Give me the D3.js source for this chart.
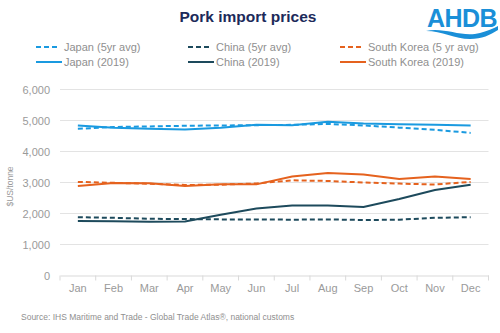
<!DOCTYPE html>
<html>
<head>
<meta charset="utf-8">
<script src="https://cdn.jsdelivr.net/npm/d3@7"></script>
<style>
  html, body { margin: 0; padding: 0; background: #fff; }
  svg { display: block; font-family: "Liberation Sans", Arial, sans-serif; }
</style>
</head>
<body>
<svg id="chart" width="500" height="333"></svg>
<script>
const months = ["Jan","Feb","Mar","Apr","May","Jun","Jul","Aug","Sep","Oct","Nov","Dec"];
const yTicks = [0, 1000, 2000, 3000, 4000, 5000, 6000];

const japanAvg  = [4730, 4790, 4810, 4830, 4840, 4850, 4860, 4890, 4840, 4770, 4700, 4600];
const chinaAvg  = [1880, 1860, 1830, 1820, 1810, 1810, 1800, 1810, 1790, 1800, 1860, 1880];
const koreaAvg  = [3020, 2990, 2960, 2920, 2930, 2970, 3070, 3050, 3000, 2965, 2935, 3020];
const japan2019 = [4840, 4765, 4735, 4710, 4765, 4860, 4850, 4960, 4900, 4880, 4865, 4840];
const china2019 = [1760, 1750, 1730, 1740, 1960, 2160, 2260, 2260, 2210, 2470, 2760, 2930];
const korea2019 = [2890, 2985, 2975, 2890, 2940, 2940, 3190, 3310, 3260, 3110, 3190, 3110];

const colors = { japan: "#1a9ae0", china: "#1d4a5c", korea: "#e5621e" };

const series = [
  { name: "Japan (5yr avg)",         values: japanAvg,  color: colors.japan, dashed: true },
  { name: "China (5yr avg)",         values: chinaAvg,  color: colors.china, dashed: true },
  { name: "South Korea (5 yr avg)",  values: koreaAvg,  color: colors.korea, dashed: true },
  { name: "Japan (2019)",            values: japan2019, color: colors.japan, dashed: false },
  { name: "China (2019)",            values: china2019, color: colors.china, dashed: false },
  { name: "South Korea (2019)",      values: korea2019, color: colors.korea, dashed: false }
];

const svg = d3.select("#chart");
const plot = { left: 60, right: 488.5, top: 89.5, bottom: 275.5 };

const x = d3.scaleBand().domain(months).range([plot.left, plot.right]);
const y = d3.scaleLinear().domain([0, 6000]).range([plot.bottom, plot.top]);

// Title
svg.append("text")
  .attr("x", 248).attr("y", 22)
  .attr("text-anchor", "middle")
  .attr("font-size", 15.5).attr("font-weight", "bold")
  .attr("fill", "#1c2a5a")
  .text("Pork import prices");

// Logo
const logo = svg.append("g");
logo.append("text")
  .attr("x", 462).attr("y", 27)
  .attr("text-anchor", "middle")
  .attr("font-size", 25).attr("font-weight", "bold")
  .attr("fill", "#1a8fd8")
  .attr("letter-spacing", -0.5)
  .text("AHDB");
logo.append("path")
  .attr("d", "M426,31 C445,27 462,38 480,33 C488,31 494,28 498,26 L498,30 C490,35 482,39 470,39 C455,39 442,31 426,31 Z")
  .attr("fill", "#1a8fd8");

// Gridlines
svg.append("g")
  .selectAll("line")
  .data(yTicks.filter(d => d > 0))
  .join("line")
  .attr("x1", plot.left).attr("x2", plot.right)
  .attr("y1", d => y(d)).attr("y2", d => y(d))
  .attr("stroke", "#e3e3e3").attr("stroke-width", 1);

// Y axis
const yAxis = svg.append("g")
  .attr("transform", `translate(${plot.left},0)`)
  .call(d3.axisLeft(y).tickValues(yTicks).tickFormat(d3.format(",")).tickSize(0).tickPadding(10));
yAxis.select(".domain").remove();
yAxis.selectAll("text").attr("font-size", 11).attr("fill", "#9a9a9a")
  .attr("font-family", "Liberation Sans, Arial, sans-serif");

// X axis
const xAxis = svg.append("g")
  .attr("transform", `translate(0,${plot.bottom})`)
  .call(d3.axisBottom(x).tickSize(0).tickPadding(9));
xAxis.select(".domain").attr("stroke", "#d9d9d9");
xAxis.selectAll("text").attr("font-size", 11).attr("fill", "#9a9a9a")
  .attr("font-family", "Liberation Sans, Arial, sans-serif");
svg.append("g")
  .selectAll("line")
  .data(months.map(m => x(m)).concat([plot.right]))
  .join("line")
  .attr("x1", d => d).attr("x2", d => d)
  .attr("y1", plot.bottom).attr("y2", plot.bottom + 5)
  .attr("stroke", "#d9d9d9");

// Y axis title
svg.append("text")
  .attr("transform", `translate(13,${(plot.top + plot.bottom) / 2 + 4}) rotate(-90)`)
  .attr("text-anchor", "middle")
  .attr("font-size", 8.5).attr("fill", "#9a9a9a")
  .text("$US/tonne");

// Lines
const line = d3.line()
  .x((d, i) => x(months[i]) + x.bandwidth() / 2)
  .y(d => y(d));

svg.append("g")
  .selectAll("path")
  .data(series)
  .join("path")
  .attr("d", d => line(d.values))
  .attr("fill", "none")
  .attr("stroke", d => d.color)
  .attr("stroke-width", 2)
  .attr("stroke-dasharray", d => d.dashed ? "5,3" : null);

// Legend
const legendCols = [36, 188, 340];
const legendRows = [47, 62];
const legend = svg.append("g")
  .selectAll("g")
  .data(series)
  .join("g")
  .attr("transform", (d, i) => `translate(${legendCols[i % 3]},${legendRows[Math.floor(i / 3)]})`);
legend.append("line")
  .attr("x1", 0).attr("x2", d => d.dashed ? 24 : 26)
  .attr("y1", 0).attr("y2", 0)
  .attr("stroke", d => d.color).attr("stroke-width", 2)
  .attr("stroke-dasharray", d => d.dashed ? "5,3" : null);
legend.append("text")
  .attr("x", 28).attr("y", 4)
  .attr("font-size", 11).attr("fill", "#8f8f8f")
  .text(d => d.name);

// Source
svg.append("text")
  .attr("x", 21).attr("y", 320)
  .attr("font-size", 8.5).attr("fill", "#8f8f8f")
  .text("Source: IHS Maritime and Trade  - Global Trade  Atlas®, national customs");
</script>
</body>
</html>
